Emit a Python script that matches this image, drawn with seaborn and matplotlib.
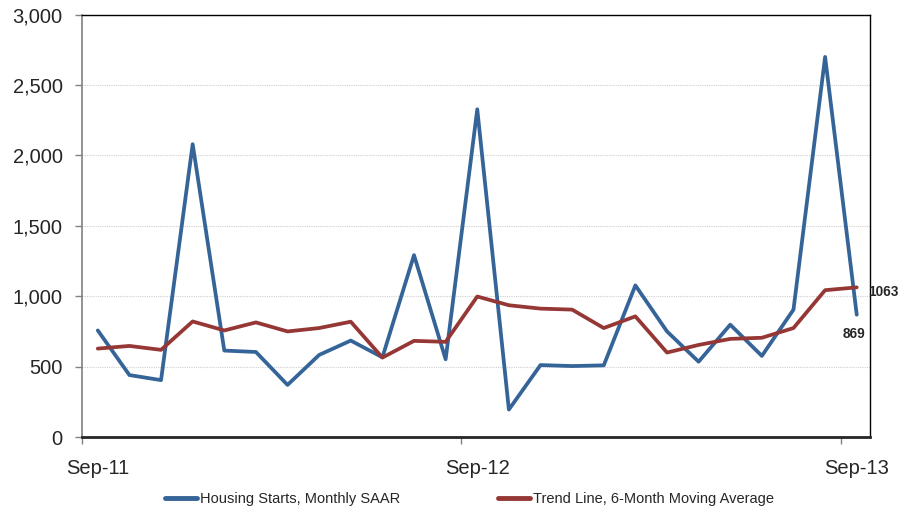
import numpy as np
import pandas as pd
import matplotlib
matplotlib.use("Agg")
import matplotlib.pyplot as plt
import seaborn as sns
from matplotlib.lines import Line2D

months = pd.date_range("2011-09-01", "2013-09-01", freq="MS").strftime("%b-%y").tolist()
housing_starts = [757, 440, 404, 2080, 614, 604, 370, 583, 685, 566, 1292, 552, 2328,
                  195, 511, 504, 509, 1077, 750, 535, 798, 576, 905, 2700, 869]
trend_line = [628, 647, 619, 821, 757, 814, 750, 774, 819, 564, 683, 676, 998,
              936, 912, 905, 774, 857, 600, 654, 697, 705, 774, 1043, 1063]
series_names = ["Housing Starts, Monthly SAAR", "Trend Line, 6-Month Moving Average"]
tick_labels = ["Sep-11", "Sep-12", "Sep-13"]
yticks = [0, 500, 1000, 1500, 2000, 2500, 3000]

sns.set_theme(style="white")
plt.rcParams["font.family"] = ["Liberation Sans", "DejaVu Sans"]

n = len(months)
df = pd.DataFrame({
    "idx": list(range(n)) * 2,
    "value": housing_starts + trend_line,
    "series": [series_names[0]] * n + [series_names[1]] * n,
})

fig = plt.figure(figsize=(9.01, 5.14), dpi=100)
ax = fig.add_axes([0.091, 0.1498, 0.8746, 0.8216])

sns.lineplot(data=df, x="idx", y="value", hue="series",
             palette=["#356498", "#953735"], linewidth=2.7, ax=ax, legend=False)

ax.set_xlim(-0.5, 24.42)
ax.set_ylim(0, 3000)
ax.set_yticks(yticks)
ax.set_yticklabels([f"{v:,}" for v in yticks], fontsize=14.5)

label_pos = [months.index(t) for t in tick_labels]
ax.set_xticks([p - 0.5 for p in label_pos])
ax.set_xticklabels([])
ax.set_xticks(label_pos, minor=True)
ax.set_xticklabels(tick_labels, minor=True, fontsize=14.5)
ax.set_xlabel("")
ax.set_ylabel("")
ax.yaxis.grid(True, color="#d0d0d0", linestyle=(0, (1, 1)), linewidth=0.8)
ax.xaxis.grid(False)
ax.tick_params(axis="y", length=5, width=1, color="#808080", direction="out", pad=9, left=True)
ax.tick_params(axis="x", which="major", length=5, width=1, color="#808080", direction="out", bottom=True)
ax.tick_params(axis="x", which="minor", length=0, pad=16, bottom=True)

ax.spines["left"].set_color("#808080")
ax.spines["left"].set_linewidth(1.2)
ax.spines["bottom"].set_color("#262626")
ax.spines["bottom"].set_linewidth(2)
ax.spines["top"].set_color("black")
ax.spines["top"].set_linewidth(1)
ax.spines["right"].set_color("black")
ax.spines["right"].set_linewidth(1)

ax.annotate(f"{trend_line[-1]}", xy=(n - 1, trend_line[-1]), xytext=(8, -3),
            textcoords="offset points", fontsize=9.8, fontweight="bold", va="center", ha="left")
ax.annotate(f"{housing_starts[-1]}", xy=(n - 1, housing_starts[-1]), xytext=(-10, -14),
            textcoords="offset points", fontsize=9.8, fontweight="bold", va="center", ha="left")

handles = [Line2D([], [], color="#356498", lw=3.5), Line2D([], [], color="#953735", lw=3.5)]
fig.legend(handles, series_names, loc="center", bbox_to_anchor=(0.521, 0.029), ncol=2,
           frameon=False, fontsize=10.5, handlelength=2.2, handletextpad=0.2, columnspacing=6.7)

fig.savefig("out.png", dpi=100)
